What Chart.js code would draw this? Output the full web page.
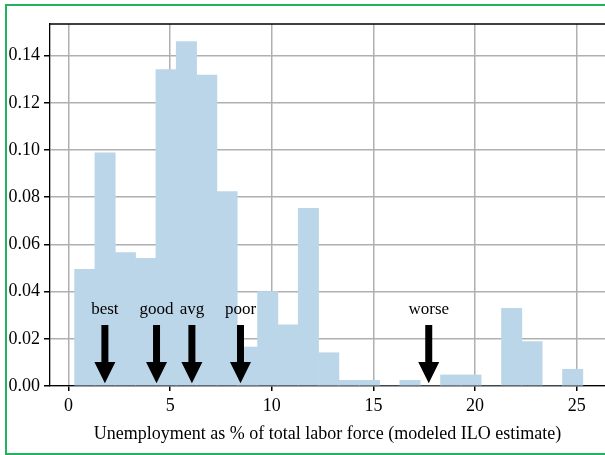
<!DOCTYPE html>
<html>
<head>
<meta charset="utf-8">
<script src="https://cdn.jsdelivr.net/npm/chart.js@4"></script>
<style>
  body { margin: 0; background: #fff; }
  #wrap { position: relative; width: 605px; height: 455px; overflow: hidden; }
  #frame { position: absolute; left: 5px; top: 4px; width: 640px; height: 447px;
           border: 2px solid #22b45c; pointer-events: none; }
</style>
</head>
<body>
<div id="wrap">
  <canvas id="chart" width="605" height="455"></canvas>
  <div id="frame"></div>
</div>
<script>
// histogram bins (centre of each 1-unit wide bin) and density heights
const binCenters = [0.8, 1.8, 2.8, 3.8, 4.8, 5.8, 6.8, 7.8, 8.8, 9.8, 10.8, 11.8, 12.8,
  13.8, 14.8, 15.8, 16.8, 17.8, 18.8, 19.8, 20.8, 21.8, 22.8, 23.8, 24.8];
const density = [0.0494, 0.0988, 0.0565, 0.0541, 0.1341, 0.1459, 0.1318, 0.0824, 0.0165,
  0.0400, 0.0259, 0.0753, 0.0141, 0.0024, 0.0024, 0, 0.0024, 0, 0.0047, 0.0047, 0,
  0.0329, 0.0188, 0, 0.0071];

// annotated arrows
const markerNames = ["best", "good", "avg", "poor", "worse"];
const markerValues = [1.79, 4.33, 6.07, 8.46, 17.72];

const xTicks = [0, 5, 10, 15, 20, 25];
const yTicks = [0, 0.02, 0.04, 0.06, 0.08, 0.1, 0.12, 0.14];

const serif = "'Liberation Serif', 'DejaVu Serif', serif";

// arrows + labels, drawn after the grid (grid sits above the bars like matplotlib)
const arrows = {
  id: "arrows",
  afterDraw(chart) {
    const { ctx, scales: { x, y } } = chart;
    ctx.save();
    ctx.fillStyle = "#000";
    markerValues.forEach((v, i) => {
      const px = x.getPixelForValue(v);
      const top = y.getPixelForValue(0.0258);
      const base = y.getPixelForValue(0.0102);
      const tip = y.getPixelForValue(0.0012);
      ctx.beginPath();
      ctx.moveTo(px - 3.5, top);
      ctx.lineTo(px + 3.5, top);
      ctx.lineTo(px + 3.5, base);
      ctx.lineTo(px + 10.5, base);
      ctx.lineTo(px, tip);
      ctx.lineTo(px - 10.5, base);
      ctx.lineTo(px - 3.5, base);
      ctx.closePath();
      ctx.fill();
      ctx.font = "17px " + serif;
      ctx.textAlign = "center";
      ctx.textBaseline = "middle";
      ctx.fillText(markerNames[i], px, y.getPixelForValue(0.0322));
    });
    // top spine
    const a = chart.chartArea;
    ctx.strokeStyle = "#000";
    ctx.lineWidth = 1.3;
    ctx.beginPath();
    ctx.moveTo(a.left, a.top);
    ctx.lineTo(a.right, a.top);
    ctx.stroke();
    ctx.restore();
  }
};

new Chart(document.getElementById("chart").getContext("2d"), {
  type: "bar",
  data: {
    datasets: [
      {
        data: binCenters.map((c, i) => ({ x: c, y: density[i] })),
        backgroundColor: "rgb(188, 214, 233)",
        borderWidth: 0,
        barPercentage: 1,
        categoryPercentage: 1,
      },
    ],
  },
  options: {
    responsive: false,
    animation: false,
    layout: { padding: { top: 24, left: 0, right: 0, bottom: 0 } },
    plugins: { legend: { display: false }, tooltip: { enabled: false } },
    scales: {
      x: {
        type: "linear",
        z: 1,
        min: -0.91,
        max: 26.39,
        offset: false,
        afterBuildTicks: (s) => { s.ticks = xTicks.map((v) => ({ value: v })); },
        afterFit: (s) => { s.height = 69; },
        grid: { offset: false, color: "#b0b0b0", lineWidth: 1.5, tickLength: 5, tickColor: "#000" },
        border: { color: "#000", width: 1.3 },
        ticks: { color: "#000", font: { family: serif, size: 18 }, padding: 4, maxRotation: 0 },
        title: {
          display: true,
          text: "Unemployment as % of total labor force (modeled ILO estimate)",
          color: "#000",
          font: { family: serif, size: 18 },
          padding: { top: 0, bottom: 10 },
        },
      },
      y: {
        z: 1,
        min: 0,
        max: 0.1534,
        afterBuildTicks: (s) => { s.ticks = yTicks.map((v) => ({ value: v })); },
        afterFit: (s) => { s.width = 50; },
        grid: { color: "#b0b0b0", lineWidth: 1.5, tickLength: 6, tickColor: "#000" },
        border: { color: "#000", width: 1.3 },
        ticks: {
          color: "#000",
          font: { family: serif, size: 18 },
          padding: 4,
          callback: (v) => v.toFixed(2),
        },
      },
    },
  },
  plugins: [arrows],
});
</script>
</body>
</html>
